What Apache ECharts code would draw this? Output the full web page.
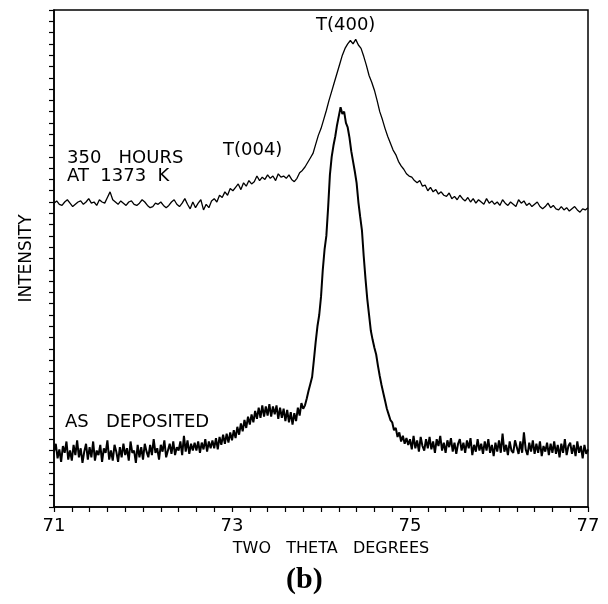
<!DOCTYPE html>
<html><head><meta charset="utf-8">
<script src="https://cdn.jsdelivr.net/npm/echarts@6/dist/echarts.min.js"></script>
<style>html,body{margin:0;padding:0;background:#fff}#c{width:608px;height:604px}</style>
</head><body><div id="c"></div>
<script>
// ---- data ----
const X_MIN = 71, X_MAX = 77;
const xTickLabels = [71, 73, 75, 77];
const Y_MIN = 0, Y_MAX = 44;
const xAxisName = 'TWO   THETA   DEGREES';
const yAxisName = 'INTENSITY';

// upper trace: 350 hours at 1373 K (sampled every 0.03 deg from 71.00)
const upperStart = 71.00, upperStep = 0.03;
const upperY = [
26.9, 27.1, 26.8, 26.7, 27.0, 27.2, 26.9, 26.6, 26.8, 27.0,
27.1, 26.8, 27.0, 27.3, 26.9, 27.0, 26.7, 27.2, 27.0, 26.9,
27.4, 27.9, 27.2, 27.0, 26.8, 27.1, 26.9, 26.7, 27.0, 27.1,
26.8, 26.7, 26.9, 27.2, 27.0, 26.7, 26.5, 26.6, 26.9, 26.8,
27.0, 26.7, 26.5, 26.7, 27.0, 27.2, 26.8, 26.6, 26.9, 27.3,
26.8, 26.4, 27.0, 26.5,
26.9, 27.2, 26.3, 26.8, 26.5, 27.1, 27.3, 27.0, 27.6, 27.4, 27.9, 27.6, 28.2, 28.0,
28.3, 28.6, 28.1, 28.7, 28.4, 28.9, 28.6, 28.8, 29.3, 28.9,
29.2, 29.0, 29.4, 29.1, 29.3, 28.9, 29.5, 29.2, 29.3, 29.1,
29.4, 29.0, 28.8,
29.1, 29.6, 29.8, 30.1, 30.5, 30.9, 31.3, 32.1, 32.9, 33.5, 34.3,
35.1, 36.0, 36.8, 37.6, 38.4, 39.2, 40.0, 40.6, 41.0, 41.3,
41.0, 41.4, 40.9, 40.6, 39.9, 39.1, 38.2, 37.6, 36.9, 36.0,
35.0, 34.3, 33.5, 32.8, 32.2, 31.6, 31.2, 30.6, 30.2, 29.9,
29.5, 29.3,
29.2, 28.9, 28.7, 28.9, 28.4, 28.5, 28.0, 28.3, 27.9, 28.1,
27.7, 27.9, 27.6, 27.5, 27.8, 27.3, 27.5, 27.2, 27.6, 27.3,
27.1, 27.4, 27.0, 27.3, 26.9, 27.2, 27.0, 26.8, 27.3, 26.9,
27.1, 26.8, 27.0, 26.7, 27.2, 26.9, 26.7, 27.0, 26.8, 26.6,
27.2, 26.9, 27.1, 26.7, 26.9, 26.6, 26.8, 27.0, 26.6, 26.4,
26.6, 26.9, 26.5, 26.7, 26.4, 26.3, 26.6, 26.3, 26.5, 26.2,
26.4, 26.6, 26.3, 26.1, 26.4, 26.3, 26.5
];

// lower trace: as deposited (sampled every 0.02 deg from 71.00)
const lowerStart = 71.00, lowerStep = 0.02;
const lowerY = [
4.9, 5.6, 4.3, 5.1, 4.0, 5.4, 4.8, 5.8, 4.2, 5.0,
4.1, 5.5, 4.6, 5.9, 4.4, 5.2, 3.9, 4.9, 5.6, 4.2,
5.3, 4.4, 5.8, 4.1, 5.0, 4.6, 5.5, 4.0, 5.2, 4.8,
5.9, 4.2, 5.0, 4.1, 5.5, 4.9, 4.0, 5.3, 4.4, 5.6,
4.6, 5.2, 4.1, 5.8, 4.8, 5.0, 3.9, 5.5, 4.4, 5.3,
4.2, 5.6, 4.9, 4.4, 5.5, 4.6, 6.0, 4.8, 5.2, 4.2,
5.5, 4.9, 5.9, 4.4, 5.0, 5.6, 4.7, 5.8, 4.6, 5.3,
5.0, 5.8, 4.6, 6.3, 4.9, 5.9, 4.7, 5.6, 5.0, 5.7,
5.0, 5.8, 4.8, 5.7, 5.1, 6.0, 4.9, 5.8, 5.2, 5.9,
5.2, 6.1, 5.1, 6.2, 5.5, 6.4, 5.6, 6.5, 5.7, 6.6,
5.9, 6.8, 6.1, 7.1, 6.4, 7.4, 6.7, 7.7, 7.0, 8.0,
7.3, 8.2, 7.5, 8.5, 7.8, 8.8, 7.9, 9.0, 8.0, 8.9,
8.1, 9.1, 8.0, 8.9, 8.2, 9.0, 7.8, 8.8, 7.9, 8.7,
7.6, 8.6, 7.5, 8.4, 7.3, 8.3, 7.6, 8.8, 8.1, 9.2,
8.7, 9.0, 9.6, 10.3, 10.9, 11.5, 13.0, 14.6, 16.0, 17.0,
18.6, 21.0, 22.8, 24.0, 26.5, 29.4, 31.0, 32.0, 32.8, 33.8,
34.6, 35.4, 34.8, 35.0, 34.0, 33.6, 32.7, 31.5, 30.6, 29.7,
28.7, 27.0, 25.7, 24.5, 22.2, 20.2, 18.4, 17.0, 15.6, 14.8,
14.1, 13.5, 12.5, 11.6, 10.8, 10.1, 9.4, 8.7, 8.2, 7.7,
7.5, 6.8, 7.0, 6.2, 6.6, 5.8, 6.3, 5.6, 6.1, 5.5,
6.0, 5.1, 6.3, 5.2, 5.9, 4.9, 6.2, 5.4, 5.0, 6.0,
5.2, 6.2, 5.1, 5.8, 4.8, 6.0, 5.4, 6.3, 5.0, 5.7,
4.8, 5.9, 5.3, 6.1, 4.9, 5.7, 4.7, 5.6, 6.0, 5.0,
5.7, 4.8, 5.9, 5.2, 6.1, 4.6, 5.5, 4.9, 6.0, 5.0,
5.6, 4.7, 5.8, 5.0, 6.0, 4.8, 5.5, 4.5, 5.7, 4.9,
5.9, 4.8, 6.5, 4.9, 5.5, 4.6, 5.8, 5.0, 4.8, 5.9,
5.3, 4.7, 5.8, 4.8, 6.6, 5.1, 4.6, 5.7, 4.9, 5.9,
4.7, 5.6, 4.8, 5.8, 4.5, 5.4, 4.9, 5.7, 4.6, 5.6,
4.8, 5.8, 4.7, 5.5, 4.4, 5.6, 4.8, 6.0, 4.6, 5.4,
5.7, 4.7, 5.5, 4.5, 5.8, 4.8, 5.4, 4.3, 5.5, 4.7,
5.1
];

// text annotations
const noteUpper1 = '350   HOURS';
const noteUpper2 = 'AT  1373  K';
const notePeak004 = 'T(004)';
const notePeak400 = 'T(400)';
const noteLower = 'AS   DEPOSITED';
const panelLabel = '(b)';

// ---- chart ----
const toPairs = (start, step, ys) => ys.map((y, i) => [+(start + i * step).toFixed(4), y]);
const FONT = 'DejaVu Sans';
const chart = echarts.init(document.getElementById('c'), null, { renderer: 'canvas' });
const txt = (text, x, y, size) => ({
  type: 'text', left: x, top: y,
  style: { text, fill: '#000', font: size + 'px "' + FONT + '"' }
});
chart.setOption({
  animation: false,
  backgroundColor: '#fff',
  grid: { left: 54, right: 20, top: 10, bottom: 97, show: true, borderColor: '#000', borderWidth: 1.5 },
  xAxis: {
    type: 'value', min: X_MIN, max: X_MAX, interval: 0.2,
    name: xAxisName, nameLocation: 'middle', nameGap: 34,
    nameTextStyle: { fontFamily: FONT, fontSize: 16, color: '#000', padding: [0, 0, 0, 20] },
    axisLine: { show: true, lineStyle: { color: '#000', width: 1.5 } },
    axisTick: { show: true, length: 5, lineStyle: { color: '#000', width: 1.2 } },
    splitLine: { show: false },
    axisLabel: {
      show: true, margin: 10, color: '#000', fontFamily: FONT, fontSize: 18,
      showMinLabel: true, showMaxLabel: true,
      formatter: v => { const r = Math.round(v); return (Math.abs(v - r) < 1e-6 && xTickLabels.includes(r)) ? String(r) : ''; }
    }
  },
  yAxis: {
    type: 'value', min: Y_MIN, max: Y_MAX, interval: 1,
    name: yAxisName, nameLocation: 'middle', nameGap: 19,
    nameTextStyle: { fontFamily: FONT, fontSize: 17, color: '#000' },
    axisLine: { show: true, lineStyle: { color: '#000', width: 1.5 } },
    axisTick: { show: true, length: 5, lineStyle: { color: '#000', width: 1.2 } },
    axisLabel: { show: false },
    splitLine: { show: false }
  },
  series: [
    { type: 'line', name: 'upper', data: toPairs(upperStart, upperStep, upperY), showSymbol: false, symbol: 'none',
      lineStyle: { color: '#000', width: 1.3 }, z: 3 },
    { type: 'line', name: 'lower', data: toPairs(lowerStart, lowerStep, lowerY), showSymbol: false, symbol: 'none',
      lineStyle: { color: '#000', width: 2 }, z: 3 }
  ],
  graphic: [
    txt(noteUpper1, 67, 149, 18),
    txt(noteUpper2, 67, 167, 18),
    txt(notePeak004, 223, 141, 18),
    txt(notePeak400, 316, 16, 18),
    txt(noteLower, 65, 413, 18),
    { type: 'text', left: 286, top: 565,
      style: { text: panelLabel, fill: '#000', font: 'bold 30px "Liberation Serif"' } }
  ]
});
</script>
</body></html>
